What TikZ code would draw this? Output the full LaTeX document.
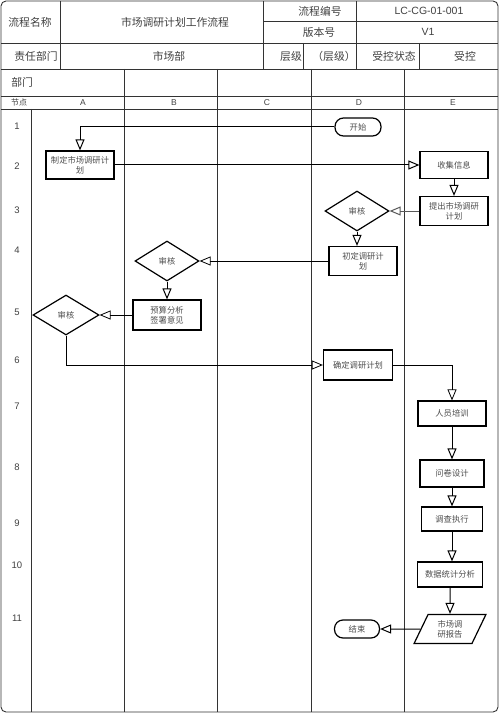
\documentclass[tikz,border=0pt]{standalone}
\usepackage{fontspec}
\setmainfont{Liberation Sans}
\newfontfamily\cjk{Noto Sans CJK SC}
\usetikzlibrary{arrows.meta, shapes, positioning}

\begin{document}
\begin{tikzpicture}[
		x=1pt,
		y=-1pt,
		>={Triangle[open, length=11pt, width=9pt]},
		line width=0.9pt
		]
		\useasboundingbox (0,0) rectangle (500,714);
		\tikzstyle{frame line}=[
			draw=black!80,
			line width=0.9pt
		]
		\tikzstyle{head}=[
			font=\cjk\fontsize{10.8}{12}\selectfont,
			text=black!75,
			inner sep=0pt
		]
		\tikzstyle{small head}=[
			head,
			font=\cjk\fontsize{8}{9}\selectfont
		]
		\tikzstyle{lane label}=[
			font=\fontsize{8.5}{9}\selectfont,
			text=black!75,
			inner sep=0pt
		]
		\tikzstyle{task}=[
			rectangle,
			draw,
			line width=1.2pt,
			minimum width=68pt,
			minimum height=28pt,
			inner sep=1pt,
			align=center,
			text=black!70,
			font=\cjk\fontsize{8.3}{10}\selectfont
		]
		\tikzstyle{audit}=[
			task,
			diamond,
			minimum width=64pt,
			minimum height=40pt,
			inner sep=0pt
		]
		\tikzstyle{terminal}=[
			task,
			rounded corners=8.5pt,
			minimum width=46pt,
			minimum height=18pt
		]
		\tikzstyle{report}=[
			task,
			trapezium,
			trapezium left angle=66,
			trapezium right angle=114,
			trapezium stretches=true,
			minimum width=72pt,
			minimum height=29pt,
			inner sep=0pt
		]
		\tikzstyle{link}=[
			->,
			draw=black,
			line width=1pt
		]
		% Draw the frame and the header table.
			\draw[frame line, rounded corners=5pt] (1,1) rectangle (498,712);
			\draw[frame line] (263,21) -- (498,21);
			\foreach \y in {43, 69, 96, 109}
				\draw[frame line] (1,\y) -- (498,\y);
			\foreach \x in {60, 263, 356}
				\draw[frame line] (\x,1) -- (\x,69);
			\foreach \x in {303, 419}
				\draw[frame line] (\x,43) -- (\x,69);
		% Draw the lanes.
			\foreach \x in {124, 217, 311, 404}
				\draw[frame line] (\x,69) -- (\x,712);
			\draw[frame line] (31,109) -- (31,712);
		% Header texts.
			\node[head] (h-name) at (30,22) {流程名称};
			\node[head] (h-title) at (175,22) {市场调研计划工作流程};
			\node[head] (h-code) at (320,11) {流程编号};
			\node[head, font=\fontsize{10.5}{12}\selectfont] (h-code-v) at (429,11) {LC-CG-01-001};
			\node[head] (h-ver) at (319,32) {版本号};
			\node[head, font=\fontsize{10.5}{12}\selectfont] (h-ver-v) at (428,32) {V1};
			\node[head] (h-dept) at (36,56) {责任部门};
			\node[head] (h-dept-v) at (169,56) {市场部};
			\node[head] (h-level) at (291,56) {层级};
			\node[head] (h-level-v) at (334,56) {（层级）};
			\node[head] (h-state) at (394,56) {受控状态};
			\node[head] (h-state-v) at (465,56) {受控};
			\node[head, anchor=west] (h-lane) at (11,82) {部门};
			\node[small head] (h-step) at (19,102.5) {节点};
			\foreach \name / \x in {A/83, B/174, C/267, D/359, E/453}
				\node[lane label] (L-\name) at (\x,102.5) {\name};
		% Draw the step numbers.
			\foreach \n / \y in {1/126, 2/166, 3/210, 4/250, 5/312, 6/360, 7/406, 8/467, 9/523, 10/565, 11/618}
				\node[lane label, font=\fontsize{9.5}{10}\selectfont] (N-\n) at (17,\y) {\n};
		% Draw the flow nodes.
			\node[terminal] (start) at (358,127) {开始};
			\node[task] (plan) at (80,165) {制定市场调研计\\划};
			\node[task, minimum height=27pt] (collect) at (454,165) {收集信息};
			\node[task, minimum height=29pt] (propose) at (454,211) {提出市场调研\\计划};
			\node[audit] (checkD) at (357,211) {审核};
			\node[task, minimum height=29pt] (draft) at (363,261) {初定调研计\\划};
			\node[audit] (checkB) at (167,261) {审核};
			\node[task, minimum height=30pt] (budget) at (167,315) {预算分析\\签署意见};
			\node[audit, minimum width=66pt] (checkA) at (66,315) {审核};
			\node[task, minimum width=69pt, minimum height=30pt] (confirm) at (358,365) {确定调研计划};
			\node[task, minimum height=25pt] (train) at (452,413.5) {人员培训};
			\node[task, minimum width=64pt, minimum height=27pt] (design) at (452,473.5) {问卷设计};
			\node[task, minimum width=61pt, minimum height=24pt] (run) at (452,519) {调查执行};
			\node[task, minimum width=65pt, minimum height=25pt] (stats) at (450,574.5) {数据统计分析};
			\node[report] (report) at (450,629) {市场调\\研报告};
			\node[terminal, minimum width=45pt] (finish) at (357,629) {结束};
		% Connect the flow nodes.
			\draw[link] (start.west) -| (plan.north);
			\draw[link] (plan.east) -- (collect.west);
			\draw[link] (collect.south) -- (propose.north);
			\draw[link, draw=black!65] (propose.west) -- (checkD.east);
			\draw[link] (checkD.south) -- (checkD.south |- draft.north);
			\draw[link, line width=0.8pt] (draft.west) -- (checkB.east);
			\draw[link] (checkB.south) -- (budget.north);
			\draw[link, line width=0.8pt] (budget.west) -- (checkA.east);
			\draw[link, line width=0.8pt] (checkA.south) |- (confirm.west);
			\draw[link, line width=0.8pt] (confirm.east) -| (train.north);
			\draw[link] (train.south) -- (design.north);
			\draw[link] (design.south) -- (run.north);
			\draw[link] (run.south) -- (run.south |- stats.north);
			\draw[link] (stats.south) -- (report.north);
			\draw[link] (report.west) -- (finish.east);
	\end{tikzpicture}
\end{document}
